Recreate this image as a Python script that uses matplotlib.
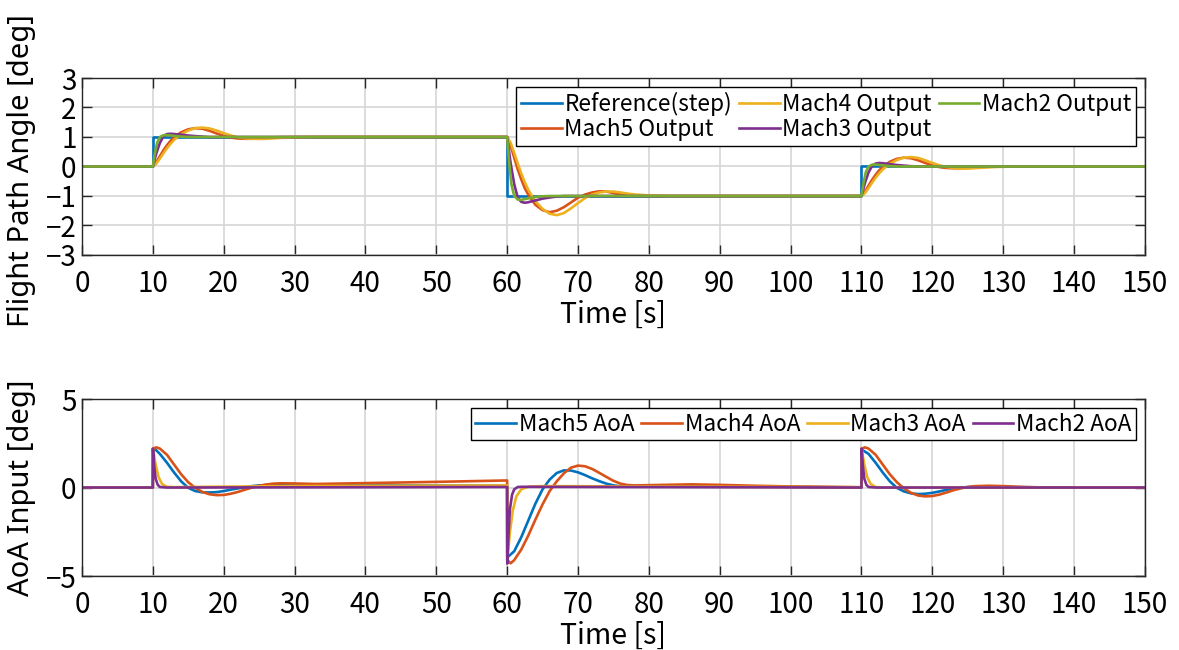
import matplotlib
matplotlib.use("Agg")
import matplotlib.pyplot as plt

plt.rcParams["font.family"] = ["Noto Sans CJK JP", "DejaVu Sans"]

# MATLAB default line colours
C_BLUE = "#0072BD"
C_RED = "#D95319"
C_YELLOW = "#EDB120"
C_PURPLE = "#7E2F8E"
C_GREEN = "#77AC30"

# ---------------------------------------------------------------------------
# Flight path angle response [deg] vs time [s]
# ---------------------------------------------------------------------------
reference_step = [(0, 0), (10, 0), (10, 1), (60, 1), (60, -1), (110, -1), (110, 0), (150, 0)]

mach5_output = [
    (0, 0), (10, 0), (10.5, 0.15), (11, 0.35), (11.5, 0.55), (12, 0.72), (12.5, 0.87), (13, 0.98),
    (13.5, 1.08), (14, 1.16), (15, 1.26), (16, 1.3), (17, 1.28), (18, 1.21), (19, 1.12), (20, 1.04),
    (21, 0.98), (22, 0.95), (23, 0.94), (24, 0.94), (25, 0.96), (26, 0.98), (28, 0.995), (30, 1.0),
    (60, 1.0), (60.5, 0.7), (61, 0.3), (61.5, -0.1), (62, -0.44), (62.5, -0.74), (63, -0.96),
    (63.5, -1.14), (64, -1.3), (65, -1.48), (66, -1.55), (67, -1.5), (68, -1.38), (69, -1.22),
    (70, -1.06), (71, -0.95), (72, -0.88), (73, -0.84), (74, -0.85), (75, -0.9), (76, -0.95),
    (78, -0.99), (80, -1.0),
    (110, -1.0), (110.5, -0.85), (111, -0.65), (111.5, -0.45), (112, -0.28), (112.5, -0.13),
    (113, -0.02), (113.5, 0.08), (114, 0.16), (115, 0.26), (116, 0.3), (117, 0.28), (118, 0.21),
    (119, 0.12), (120, 0.04), (121, -0.02), (122, -0.05), (123, -0.06), (124, -0.06), (125, -0.04),
    (126, -0.02), (128, -0.005), (130, 0.0), (150, 0.0),
]

mach4_output = [
    (0, 0), (10, 0), (10.5, 0.1), (11, 0.27), (11.5, 0.45), (12, 0.62), (12.5, 0.77), (13, 0.9),
    (13.5, 1.0), (14, 1.09), (15, 1.22), (16, 1.3), (17, 1.32), (18, 1.29), (19, 1.22), (20, 1.13),
    (21, 1.05), (22, 0.99), (23, 0.955), (24, 0.94), (25, 0.935), (26, 0.94), (27, 0.955),
    (28, 0.97), (30, 0.99), (33, 1.0),
    (60, 1.0), (60.5, 0.8), (61, 0.46), (61.5, 0.1), (62, -0.24), (62.5, -0.54), (63, -0.8),
    (63.5, -1.0), (64, -1.18), (65, -1.44), (66, -1.6), (67, -1.65), (68, -1.58), (69, -1.42),
    (70, -1.24), (71, -1.07), (72, -0.95), (73, -0.88), (74, -0.85), (75, -0.85), (76, -0.88),
    (77, -0.92), (78, -0.95), (80, -0.98), (83, -1.0),
    (110, -1.0), (110.5, -0.9), (111, -0.73), (111.5, -0.55), (112, -0.38), (112.5, -0.23),
    (113, -0.1), (113.5, 0.0), (114, 0.09), (115, 0.22), (116, 0.3), (117, 0.32), (118, 0.29),
    (119, 0.21), (120, 0.12), (121, 0.04), (122, -0.02), (123, -0.05), (124, -0.07), (125, -0.07),
    (126, -0.055), (127, -0.04), (129, -0.015), (132, 0.0), (150, 0.0),
]

mach3_output = [
    (0, 0), (10, 0), (10.5, 0.45), (11, 0.8), (11.5, 1.03), (12, 1.1), (12.5, 1.11), (13, 1.1),
    (14, 1.08), (15, 1.05), (16, 1.03), (17, 1.015), (18, 1.0), (60, 1.0),
    (60.5, 0.1), (61, -0.6), (61.5, -1.06), (62, -1.2), (62.5, -1.23), (63, -1.21), (64, -1.15),
    (65, -1.09), (66, -1.05), (67, -1.02), (68, -1.0), (110, -1.0),
    (110.5, -0.55), (111, -0.2), (111.5, 0.02), (112, 0.1), (112.5, 0.12), (113, 0.11),
    (114, 0.08), (115, 0.05), (116, 0.03), (117, 0.01), (118, 0.0), (150, 0.0),
]

mach2_output = [
    (0, 0), (10, 0), (10.3, 0.45), (10.6, 0.8), (11, 1.0), (11.5, 1.06), (12, 1.065), (13, 1.04),
    (14, 1.015), (15, 1.0), (60, 1.0),
    (60.3, 0.1), (60.6, -0.6), (61, -1.0), (61.5, -1.12), (62, -1.13), (63, -1.08), (64, -1.03),
    (65, -1.01), (66, -1.0), (110, -1.0),
    (110.3, -0.55), (110.6, -0.2), (111, 0.0), (111.5, 0.06), (112, 0.065), (113, 0.04),
    (114, 0.015), (115, 0.0), (150, 0.0),
]

# ---------------------------------------------------------------------------
# Angle-of-attack command [deg] vs time [s]
# ---------------------------------------------------------------------------
mach5_aoa = [
    (0, 0), (10, 0), (10.02, 2.2), (10.5, 2.1), (11, 1.9), (12, 1.4), (13, 0.85), (14, 0.35),
    (15, -0.02), (16, -0.2), (17, -0.27), (18, -0.28), (19, -0.26), (20, -0.2), (21, -0.12),
    (22, -0.05), (23, 0.02), (24, 0.08), (25, 0.12), (27, 0.15), (30, 0.14), (40, 0.12),
    (50, 0.11), (60, 0.1),
    (60.02, -3.95), (61, -3.6), (62, -2.8), (63, -1.85), (64, -0.9), (65, -0.1), (66, 0.45),
    (67, 0.82), (68, 0.97), (69, 0.96), (70, 0.86), (71, 0.7), (72, 0.52), (73, 0.36), (74, 0.22),
    (75, 0.12), (76, 0.07), (78, 0.08), (82, 0.1), (88, 0.1), (95, 0.06), (105, 0.02), (110, 0.0),
    (110.02, 2.15), (111, 1.9), (112, 1.4), (113, 0.85), (114, 0.35), (115, -0.02), (116, -0.22),
    (117, -0.33), (118, -0.37), (119, -0.35), (120, -0.3), (121, -0.22), (122, -0.13),
    (123, -0.05), (124, 0.0), (126, 0.05), (128, 0.06), (132, 0.02), (140, 0.0), (150, 0.0),
]

mach4_aoa = [
    (0, 0), (10, 0), (10.02, 2.2), (10.5, 2.27), (11, 2.2), (12, 1.85), (13, 1.3), (14, 0.75),
    (15, 0.3), (16, -0.02), (17, -0.25), (18, -0.38), (19, -0.43), (20, -0.42), (21, -0.35),
    (22, -0.25), (23, -0.12), (24, 0.0), (25, 0.1), (26, 0.17), (27, 0.22), (28, 0.24),
    (30, 0.23), (33, 0.2), (40, 0.25), (50, 0.32), (60, 0.4),
    (60.02, -4.1), (60.5, -4.28), (61, -4.1), (62, -3.5), (63, -2.7), (64, -1.8), (65, -0.95),
    (66, -0.2), (67, 0.35), (68, 0.8), (69, 1.12), (70, 1.24), (71, 1.2), (72, 1.05), (73, 0.83),
    (74, 0.6), (75, 0.38), (76, 0.22), (77, 0.14), (78, 0.12), (82, 0.15), (86, 0.18), (90, 0.15),
    (95, 0.1), (100, 0.06), (110, 0.02),
    (110.02, 2.2), (110.5, 2.27), (111, 2.2), (112, 1.85), (113, 1.3), (114, 0.75), (115, 0.3),
    (116, -0.05), (117, -0.3), (118, -0.45), (119, -0.5), (120, -0.48), (121, -0.4), (122, -0.28),
    (123, -0.15), (124, -0.05), (125, 0.03), (126, 0.08), (128, 0.1), (130, 0.08), (133, 0.03),
    (136, 0.0), (150, 0.0),
]

mach3_aoa = [
    (0, 0), (10, 0), (10.02, 2.2), (10.4, 1.3), (10.8, 0.6), (11.3, 0.2), (12, 0.04), (13, 0.02),
    (20, 0.05), (30, 0.08), (45, 0.1), (60, 0.12),
    (60.02, -4.1), (60.4, -2.5), (60.8, -1.3), (61.3, -0.5), (62, -0.1), (63, 0.05), (65, 0.08),
    (80, 0.06), (100, 0.03), (110, 0.01),
    (110.02, 2.2), (110.4, 1.3), (110.8, 0.6), (111.3, 0.2), (112, 0.03), (113, 0.0), (150, 0.0),
]

mach2_aoa = [
    (0, 0), (10, 0), (10.02, 2.2), (10.2, 1.2), (10.4, 0.5), (10.7, 0.15), (11, 0.03), (12, 0.0),
    (60, 0.03),
    (60.02, -4.3), (60.2, -2.6), (60.4, -1.2), (60.7, -0.4), (61, -0.1), (61.5, 0.03), (62, 0.04),
    (110, 0.0),
    (110.02, 2.2), (110.2, 1.2), (110.4, 0.5), (110.7, 0.15), (111, 0.03), (112, 0.0), (150, 0.0),
]

top_series = [
    ("Reference(step)", reference_step, C_BLUE),
    ("Mach5 Output", mach5_output, C_RED),
    ("Mach4 Output", mach4_output, C_YELLOW),
    ("Mach3 Output", mach3_output, C_PURPLE),
    ("Mach2 Output", mach2_output, C_GREEN),
]
bottom_series = [
    ("Mach5 AoA", mach5_aoa, C_BLUE),
    ("Mach4 AoA", mach4_aoa, C_RED),
    ("Mach3 AoA", mach3_aoa, C_YELLOW),
    ("Mach2 AoA", mach2_aoa, C_PURPLE),
]

time_ticks = list(range(0, 151, 10))
top_yticks = [-3, -2, -1, 0, 1, 2, 3]
bottom_yticks = [-5, 0, 5]

AX_COLOR = "#262626"
TICK_FS = 20
LABEL_FS = 20.5
YLABEL_FS = 21
LEGEND_FS = 16.3


def style_axes(ax, yticks):
    ax.set_xlim(0, 150)
    ax.set_ylim(yticks[0], yticks[-1])
    ax.set_xticks(time_ticks)
    ax.set_yticks(yticks)
    ax.grid(True, color="#d6d6d6", linewidth=1.2)
    ax.set_axisbelow(True)
    for sp in ax.spines.values():
        sp.set_color(AX_COLOR)
        sp.set_linewidth(1.0)
    ax.tick_params(direction="in", length=7, width=1.0, color=AX_COLOR,
                   top=True, right=True, labelsize=TICK_FS, labelcolor="black")
    ax.tick_params(axis="x", pad=10)
    ax.tick_params(axis="y", pad=4)
    ax.set_xlabel("Time [s]", fontsize=LABEL_FS, labelpad=1)


def draw(ax, series):
    for label, pts, color in series:
        t = [p[0] for p in pts]
        v = [p[1] for p in pts]
        ax.plot(t, v, color=color, linewidth=1.9, label=label)


fig = plt.figure(figsize=(11.79, 6.5), dpi=100)
ax_top = fig.add_axes([0.0695, 0.6077, 0.9016, 0.2723])
ax_bot = fig.add_axes([0.0695, 0.1138, 0.9016, 0.2723])

# rotated labels use plain Noto Sans so the closing bracket renders
draw(ax_top, top_series)
style_axes(ax_top, top_yticks)
ax_top.set_ylabel("Flight Path Angle [deg]", fontsize=YLABEL_FS, family="Noto Sans")
ax_top.yaxis.set_label_coords(-0.043, 0.475)

draw(ax_bot, bottom_series)
style_axes(ax_bot, bottom_yticks)
ax_bot.set_ylabel("AoA Input [deg]", fontsize=YLABEL_FS, family="Noto Sans")
ax_bot.yaxis.set_label_coords(-0.043, 0.5)

legend_kw = dict(fontsize=LEGEND_FS, frameon=True, fancybox=False, framealpha=1,
                 edgecolor="black", handlelength=1.8, handletextpad=0.12,
                 columnspacing=0.3, labelspacing=0.12, borderpad=0.2,
                 borderaxespad=0.4, loc="upper right")
leg = ax_top.legend(ncol=3, **legend_kw)
leg.get_frame().set_linewidth(1.0)
leg = ax_bot.legend(ncol=4, **legend_kw)
leg.get_frame().set_linewidth(1.0)

fig.savefig("out.png", dpi=100)
